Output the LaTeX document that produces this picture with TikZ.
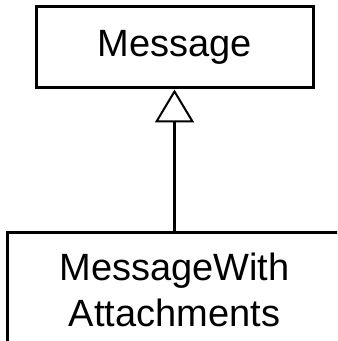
\documentclass[tikz,border=0pt]{standalone}
\usepackage{fontspec}
\setmainfont{Liberation Sans}
\usepackage{tikz}
\usetikzlibrary{arrows.meta}

\begin{document}
\begin{tikzpicture}[x=0.5pt, y=-0.5pt,
    classbox/.style={draw, line width=1.5pt, inner sep=0pt, align=center,
        font=\fontsize{19pt}{23pt}\selectfont}]
\useasboundingbox (0,0) rectangle (337,341);
\clip (0,0) rectangle (337,341);

\node[classbox, minimum width=138.5pt, minimum height=40.5pt] (message) at (174.5,47.5) {Message};
\node[classbox, minimum width=167pt, minimum height=57.5pt] (withatt) at (174.5,289.5) {MessageWith\\Attachments};

% generalisation arrow
\draw[line width=1.5pt, -{Triangle[open, width=19.5pt, length=16.5pt, line width=1pt]}] (withatt) -- (message);
\end{tikzpicture}
\end{document}
